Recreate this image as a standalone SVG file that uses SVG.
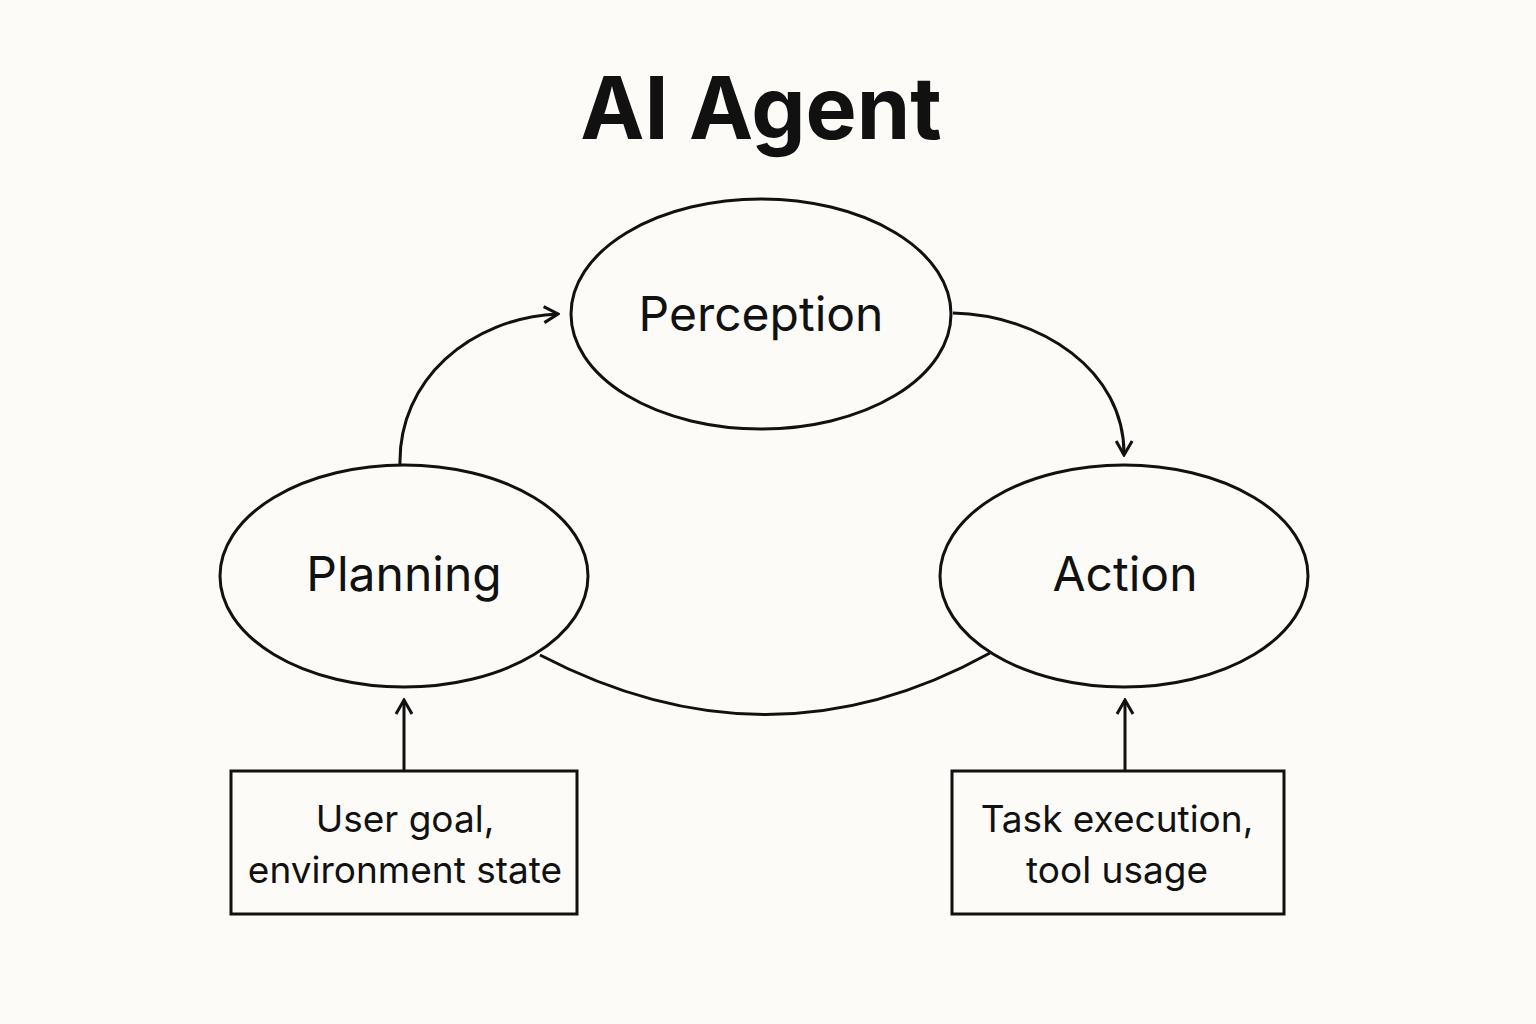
<svg xmlns="http://www.w3.org/2000/svg" width="1536" height="1024" viewBox="0 0 1536 1024">
<style>
.shape{fill:none;stroke:#111;stroke-width:3}
.conn{fill:none;stroke:#111;stroke-width:3}
.lbl{font-family:Inter,"Noto Sans","DejaVu Sans",sans-serif;fill:#111;text-anchor:middle}
.node{font-size:48px}
.box{font-size:37px}
</style>
<defs>
<marker id="arr" viewBox="0 0 20 20" refX="18" refY="10" markerWidth="20" markerHeight="20" markerUnits="userSpaceOnUse" orient="auto">
<path d="M4,2 L18,10 L4,18" fill="none" stroke="#111" stroke-width="3"/>
</marker>
</defs>
<rect width="1536" height="1024" fill="#fcfbf8"/>
<text class="lbl" x="761" y="139" style="font-size:86px;font-weight:700">AI Agent</text>
<g id="connectors">
<path class="conn" d="M400,465 C398,380 470,318 558,314" marker-end="url(#arr)"/>
<path class="conn" d="M953,313 C1040,315 1125,370 1124,455" marker-end="url(#arr)"/>
<path class="conn" d="M540,655 Q770,775 990,653"/>
<path class="conn" d="M404,771 L404,700" marker-end="url(#arr)"/>
<path class="conn" d="M1125,771 L1125,700" marker-end="url(#arr)"/>
</g>
<g id="perception">
<ellipse class="shape" cx="761" cy="314" rx="190" ry="115"/>
<text class="lbl node" x="761" y="331">Perception</text>
</g>
<g id="planning">
<ellipse class="shape" cx="404" cy="576" rx="184" ry="111"/>
<text class="lbl node" x="404" y="591">Planning</text>
</g>
<g id="action">
<ellipse class="shape" cx="1124" cy="576" rx="184" ry="111"/>
<text class="lbl node" x="1125" y="591">Action</text>
</g>
<g id="user-goal">
<rect class="shape" x="231" y="771" width="346" height="143"/>
<text class="lbl box" x="405" y="832">User goal,</text>
<text class="lbl box" x="405" y="883">environment state</text>
</g>
<g id="task-execution">
<rect class="shape" x="952" y="771" width="332" height="143"/>
<text class="lbl box" x="1117" y="832">Task execution,</text>
<text class="lbl box" x="1117" y="883">tool usage</text>
</g>
</svg>
